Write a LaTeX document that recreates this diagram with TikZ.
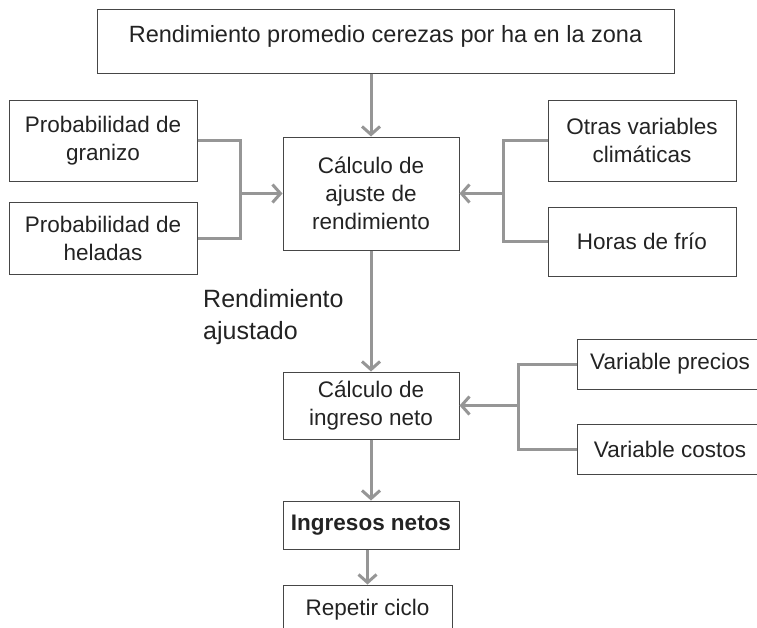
\documentclass[tikz,border=0pt]{standalone}
\usepackage{fontspec}
\setmainfont{Liberation Sans}
\usetikzlibrary{arrows.meta, positioning}
\definecolor{linea}{RGB}{150,150,150}
\definecolor{borde}{RGB}{70,70,70}
\definecolor{texto}{RGB}{35,35,35}
\tikzstyle{caja} = [draw=borde, line width=1pt, rectangle, align=center, text=texto, inner sep=4pt, font=\fontsize{22.5}{28}\selectfont]
\tikzstyle{flecha} = [draw=linea, line width=3pt, -{Straight Barb[length=8pt,width=18pt]}]
\tikzstyle{rama} = [draw=linea, line width=3pt]
\begin{document}
\begin{tikzpicture}[x=1pt, y=-1pt]
	\useasboundingbox (0,0) rectangle (757,627);
	\clip (0,0) rectangle (757,627);
	\node[caja, minimum width=577, minimum height=64, text depth=14pt, font=\fontsize{23.5}{28}\selectfont] (rend) at (385.5,41) {Rendimiento promedio cerezas por ha en la zona};
	\node[caja, minimum width=188, minimum height=81] (granizo) at (103,140.5) {Probabilidad de\\granizo};
	\node[caja, minimum width=188, minimum height=72] (heladas) at (103,238) {Probabilidad de\\heladas};
	\node[caja, minimum width=176, minimum height=113] (ajuste) at (371,193.5) {Cálculo de\\ajuste de\\rendimiento};
	\node[caja, minimum width=188, minimum height=81] (otras) at (642,140.5) {Otras variables\\climáticas};
	\node[caja, minimum width=188, minimum height=69] (frio) at (642,241.5) {Horas de frío};
	\node[align=left, anchor=north west, inner sep=0pt, text=texto, font=\fontsize{25}{32}\selectfont] (ajustado) at (203,289) {Rendimiento\\ajustado};
	\node[caja, minimum width=176, minimum height=67] (ingreso) at (371,405.5) {Cálculo de\\ingreso neto};
	\node[caja, minimum width=186, minimum height=50] (precios) at (670,364) {Variable precios};
	\node[caja, minimum width=186, minimum height=50] (costos) at (670,449) {Variable costos};
	\node[caja, minimum width=176, minimum height=48, font=\fontsize{22.5}{28}\selectfont\bfseries] (netos) at (371,525) {Ingresos netos};
	\node[caja, minimum width=169, minimum height=50] (repetir) at (367.5,610) {Repetir ciclo};

	\draw[flecha] (ajuste.north |- rend.south) -- (ajuste.north);
	\coordinate (izq) at (240,193.5);
	\draw[rama] (granizo.east) -| (izq) |- (heladas.east);
	\draw[flecha] (izq) -- (ajuste.west);
	\coordinate (der) at (503,193.5);
	\draw[rama] (otras.west) -| (der) |- (frio.west);
	\draw[flecha] (der) -- (ajuste.east);
	\draw[flecha] (ajuste.south) -- (ingreso.north);
	\coordinate (der2) at (518,405.5);
	\draw[rama] (precios.west) -| (der2) |- (costos.west);
	\draw[flecha] (der2) -- (ingreso.east);
	\draw[flecha] (ingreso.south) -- (netos.north);
	\draw[flecha] (repetir.north |- netos.south) -- (repetir.north);
\end{tikzpicture}
\end{document}
